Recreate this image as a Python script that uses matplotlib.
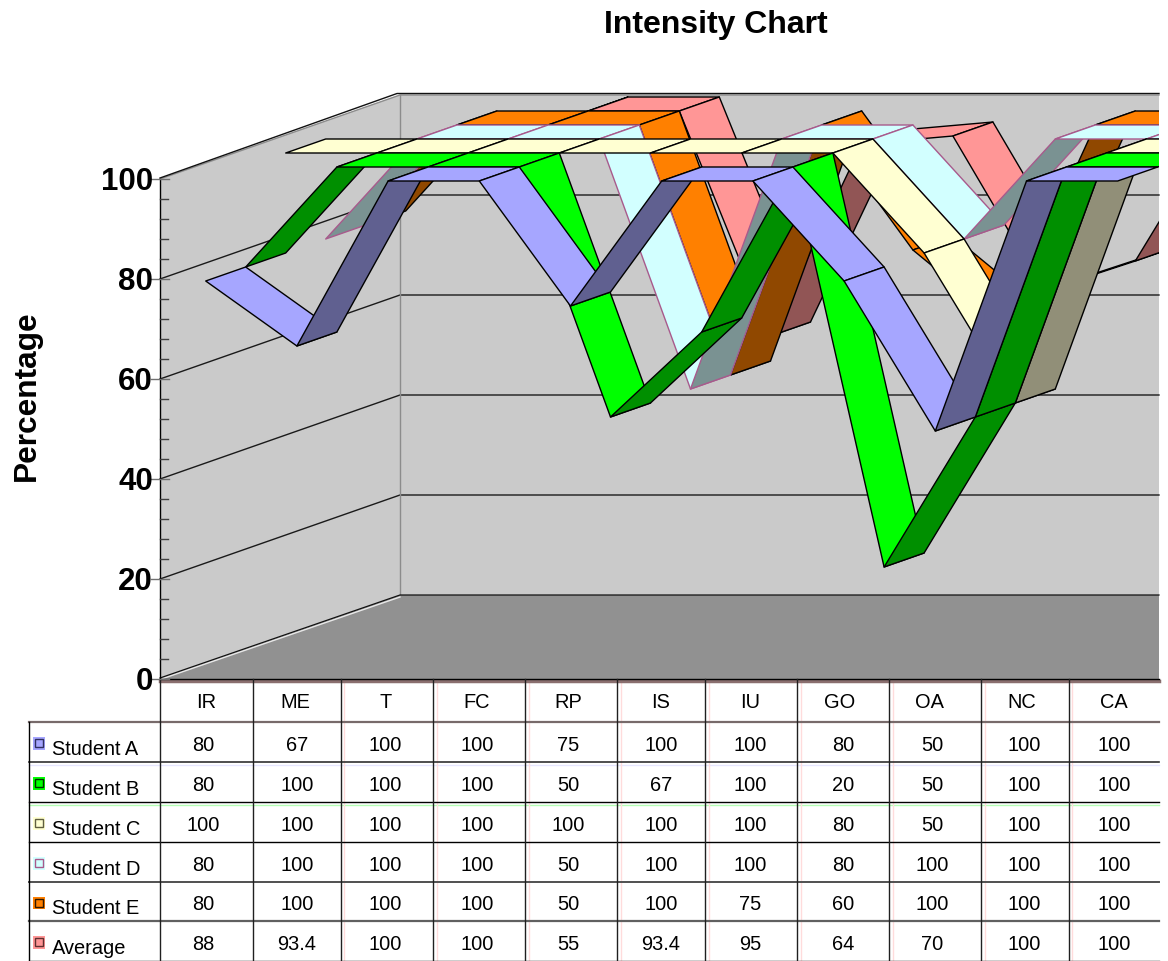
import matplotlib
matplotlib.use("Agg")
import matplotlib.pyplot as plt
from matplotlib.patches import Polygon, Rectangle

plt.rcParams['font.family'] = ['Liberation Sans', 'DejaVu Sans']

# chart data, front series first
categories = ['IR', 'ME', 'T', 'FC', 'RP', 'IS', 'IU', 'GO', 'OA', 'NC', 'CA']
series_names = ['Student A', 'Student B', 'Student C', 'Student D', 'Student E', 'Average']
student_a = [80, 67, 100, 100, 75, 100, 100, 80, 50, 100, 100]
student_b = [80, 100, 100, 100, 50, 67, 100, 20, 50, 100, 100]
student_c = [100, 100, 100, 100, 100, 100, 100, 80, 50, 100, 100]
student_d = [80, 100, 100, 100, 50, 100, 100, 80, 100, 100, 100]
student_e = [80, 100, 100, 100, 50, 100, 75, 60, 100, 100, 100]
average = [88, 93.4, 100, 100, 55, 93.4, 95, 64, 70, 100, 100]
all_series = [student_a, student_b, student_c, student_d, student_e, average]
y_ticks = [0, 20, 40, 60, 80, 100]

# lit face, shaded face, outline for each series
lit_colors = ['#A6A6FF', '#00FF00', '#FFFFD2', '#D2FFFF', '#FF8000', '#FF9696']
dark_colors = ['#606090', '#008F00', '#918F78', '#7A9292', '#904800', '#915555']
edge_colors = ['black', 'black', 'black', '#A85A8C', 'black', 'black']

# projection of the fake 3d box, in pixels
X0, DX = 205.7, 91.2
Y0, YS = 680, 5
RIBBON_Y0 = 682
DEPTH_X, DEPTH_Y = 40, 14
WALL_X = 160
RIGHT = 1159


def project(cat, depth, value):
    return (X0 + DX * cat + DEPTH_X * depth, RIBBON_Y0 - YS * value - DEPTH_Y * depth)


def wall_line(ax, value, color, lw):
    y = Y0 - YS * value
    back = WALL_X + DEPTH_X * 6
    ax.plot([WALL_X, back, RIGHT], [y, y - DEPTH_Y * 6, y - DEPTH_Y * 6], color=color, lw=lw, zorder=2)


def draw_box(ax):
    back = WALL_X + DEPTH_X * 6
    top = Y0 - YS * 100
    d = DEPTH_Y * 6
    ax.add_patch(Polygon([(WALL_X, top), (back, top - d), (RIGHT, top - d), (RIGHT, Y0 - d), (back, Y0 - d), (WALL_X, Y0)],
                         facecolor='#CACACA', edgecolor='none', zorder=1))
    ax.add_patch(Polygon([(WALL_X, Y0), (back, Y0 - d), (RIGHT, Y0 - d), (RIGHT, Y0)],
                         facecolor='#919191', edgecolor='none', zorder=1))
    for v in y_ticks[1:-1]:
        wall_line(ax, v, '#1a1a1a', 1.0)
    # top rim: grey wall edge and black outline just above it
    wall_line(ax, 100, '#8c8c8c', 1.0)
    ax.plot([WALL_X, back - 3, RIGHT], [top - 1, top - d - 1.5, top - d - 1.5], color='#111111', lw=1.0, zorder=2)
    ax.plot([back, back], [top - d, Y0 - d], color='#8c8c8c', lw=1.0, zorder=2)
    # floor edges
    ax.plot([WALL_X, back], [Y0 + 0.5, Y0 - d + 2], color='#e8e8e8', lw=1.0, zorder=2)
    ax.plot([WALL_X, back, RIGHT], [Y0 - 1, Y0 - d, Y0 - d], color='#111111', lw=0.9, zorder=2)
    # y axis and ticks
    ax.plot([WALL_X, WALL_X], [top, Y0], color='black', lw=1.0, zorder=3)
    for v in range(0, 101, 4):
        y = Y0 - YS * v
        if v % 20 == 0:
            ax.plot([WALL_X - 9, WALL_X + 9], [y, y], color='#707070', lw=1.0, zorder=3)
        else:
            ax.plot([WALL_X, WALL_X + 8], [y, y], color='#404040', lw=1.0, zorder=3)
    for v in y_ticks:
        ax.text(153, Y0 - YS * v + 2.5, str(v), ha='right', va='center', fontsize=22.5, fontweight='bold', zorder=3)


def draw_ribbons(ax, clip):
    # back series first so the nearer ones paint over them
    for s in range(len(all_series) - 1, -1, -1):
        values = all_series[s]
        for i in range(len(values) - 1):
            x1, y1 = project(i, s, values[i])
            x2, y2 = project(i + 1, s, values[i + 1])
            x4, y4 = project(i, s + 1, values[i])
            x3, y3 = project(i + 1, s + 1, values[i + 1])
            # we see the underside when the slope beats the depth slope
            under = (x2 - x1) * (y4 - y1) - (y2 - y1) * (x4 - x1) > 0
            face = dark_colors[s] if under else lit_colors[s]
            poly = Polygon([(x1, y1), (x2, y2), (x3, y3), (x4, y4)], closed=True, facecolor=face,
                           edgecolor=edge_colors[s], lw=1.0, joinstyle='round', zorder=5)
            ax.add_patch(poly)
            poly.set_clip_path(clip)


def draw_table(ax):
    col_edges = [160, 252.5, 340.5, 433, 525, 617, 705, 797, 889, 981, 1068.5]
    row_edges = [723, 762.7, 802.7, 842.7, 882.7, 922, 961.5]
    head_x = [206, 295, 386, 477, 568, 661, 750, 840, 930, 1022, 1114]
    cell_x = [203, 297, 385, 477, 568, 661, 750, 843, 932, 1024, 1114]
    row_styles = [('#776a6a', 1.6), ('#303030', 1.2), ('black', 1.0), ('black', 1.0),
                  ('#505050', 1.4), ('#606060', 1.6), ('black', 1.0)]
    ghost_colors = ['#E6E6FF', '#B4FFB4', None, None, None, '#FFE0C8']
    key_edges = ['#303060', '#003000', '#605F40', '#A85A8C', '#301800', '#603030']

    # light shadow lines left under the rows and beside the columns
    for r, color in enumerate(ghost_colors):
        if color:
            ax.plot([28.5, RIGHT], [row_edges[r + 1] + 3.5] * 2, color=color, lw=1.0, zorder=1)
    for x in col_edges[2:]:
        ax.plot([x + 3.5, x + 3.5], [683, row_edges[-1]], color='#FFDCDC', lw=1.0, zorder=1)

    ax.plot([WALL_X, RIGHT], [681.5, 681.5], color='#8a6f6f', lw=2.5, zorder=2)
    ax.plot([WALL_X, RIGHT], [679.5, 679.5], color='black', lw=1.0, zorder=2)
    for r, (color, lw) in zip(row_edges, row_styles):
        ax.plot([28.5, RIGHT], [r, r], color=color, lw=lw, zorder=2)
    ax.plot([28.5, 28.5], [row_edges[0], row_edges[-1]], color='black', lw=1.0, zorder=2)
    for x in col_edges:
        ax.plot([x, x], [680, row_edges[-1]], color='#202020', lw=1.0, zorder=2)

    for i, name in enumerate(categories):
        ax.text(head_x[i], 703, name, ha='center', va='center', fontsize=14.4)
    for s, name in enumerate(series_names):
        y_text = (row_edges[s] + row_edges[s + 1]) / 2
        ax.text(52, y_text + 6.5, name, ha='left', va='center', fontsize=14.4)
        ax.add_patch(Rectangle((32.5, y_text + 1.5 - 6.2), 12.5, 12.5, facecolor=lit_colors[s], edgecolor='none', zorder=3))
        ax.add_patch(Rectangle((34.7, y_text + 1.5 - 4), 8, 8, facecolor=lit_colors[s], edgecolor=key_edges[s], lw=1.0, zorder=4))
        for i, v in enumerate(all_series[s]):
            ax.text(cell_x[i], y_text + 2.5, str(v), ha='center', va='center', fontsize=14.4)


def main():
    fig = plt.figure(figsize=(11.68, 9.62), dpi=100, facecolor='white')
    ax = fig.add_axes([0, 0, 1, 1])
    ax.set_xlim(0, 1168)
    ax.set_ylim(962, 0)
    ax.axis('off')

    clip = Rectangle((0, 0), RIGHT, 962, transform=ax.transData)
    draw_box(ax)
    draw_ribbons(ax, clip)
    draw_table(ax)

    ax.text(716, 25.5, 'Intensity Chart', ha='center', va='center', fontsize=23, fontweight='bold')
    ax.text(26.5, 395.5, 'Percentage', ha='center', va='center', rotation=90, fontsize=22.8, fontweight='bold')

    plt.savefig('out.png', dpi=100)
    plt.close(fig)


if __name__ == "__main__":
    main()
